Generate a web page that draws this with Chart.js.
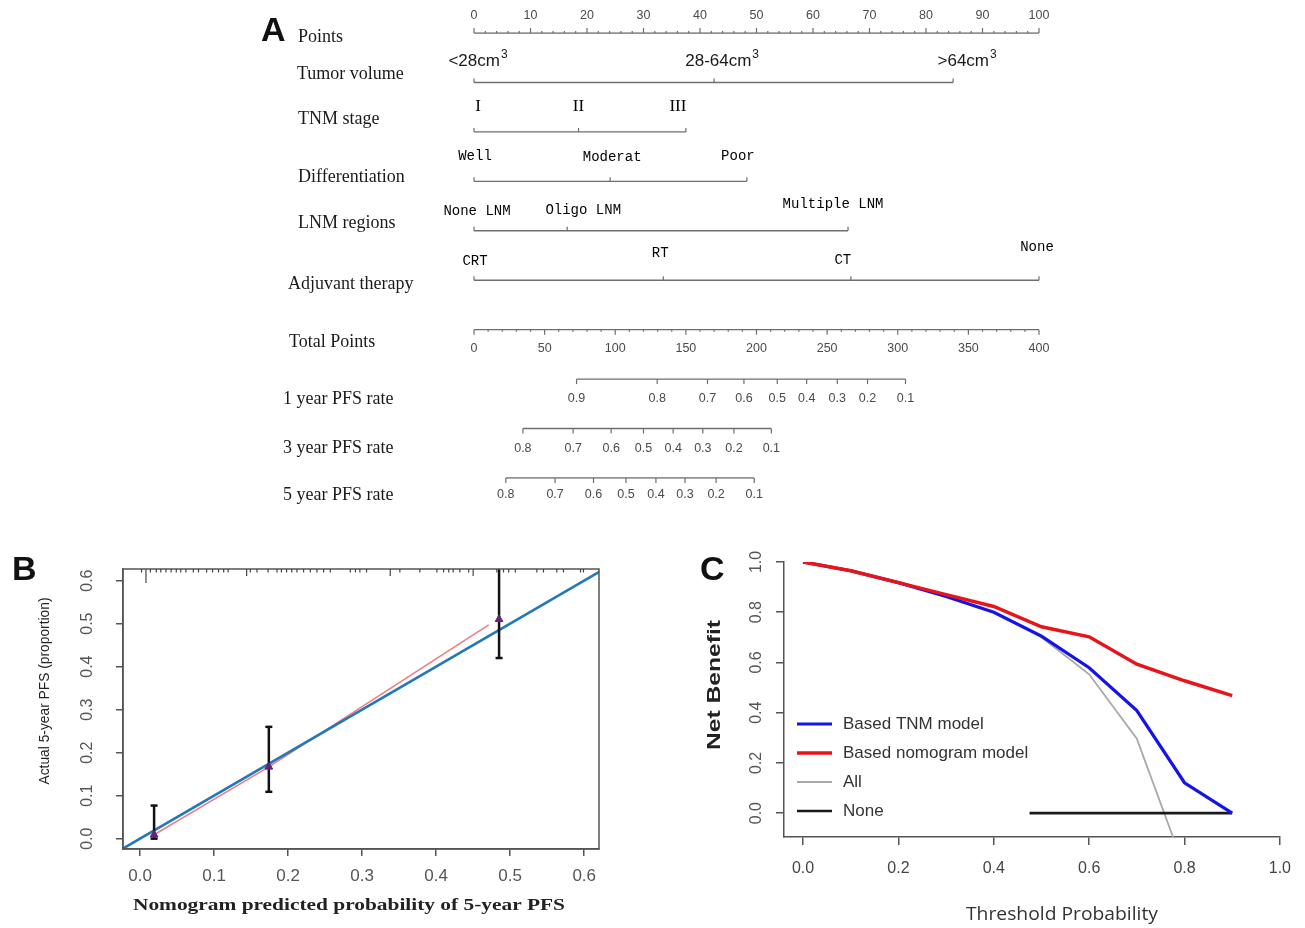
<!DOCTYPE html>
<html>
<head>
<meta charset="utf-8">
<title>PFS nomogram, calibration and decision curve</title>
<script src="https://cdn.jsdelivr.net/npm/chart.js@4.4.1/dist/chart.umd.min.js"></script>
<style>
  html, body { margin: 0; background: #fff; }
  #fig { position: relative; width: 1305px; height: 928px; overflow: hidden; }
  #fig canvas { position: absolute; }
  .panel { position: absolute; font: bold 34px "Liberation Sans", Arial, sans-serif; line-height: 34px; color: #111; }
</style>
</head>
<body>
<div id="fig">
  <canvas id="nomo" width="1305" height="540" style="left:0;top:0"></canvas>
  <canvas id="calib" width="620" height="388" style="left:0;top:540px"></canvas>
  <canvas id="dca" width="615" height="388" style="left:690px;top:540px"></canvas>
  <div class="panel" style="left:261px;top:12px">A</div>
  <div class="panel" style="left:12px;top:551px">B</div>
  <div class="panel" style="left:700px;top:551px">C</div>
</div>
<script>
// ---------- A: nomogram ----------
var rowNames = ['Points', 'Tumor volume', 'TNM stage', 'Differentiation', 'LNM regions',
  'Adjuvant therapy', 'Total Points', '1 year PFS rate', '3 year PFS rate', '5 year PFS rate'];

var pointTicks = [0, 10, 20, 30, 40, 50, 60, 70, 80, 90, 100];
var totalTicks = [0, 50, 100, 150, 200, 250, 300, 350, 400];

var volumeLabels = ['<28cm', '28-64cm', '>64cm'];
var volumePoints = [0, 42.5, 84.8];
var stageLabels = ['I', 'II', 'III'];
var stagePoints = [0, 18.5, 37.5];
var diffLabels = ['Well', 'Moderat', 'Poor'];
var diffPoints = [0, 24.1, 48.3];
var lnmLabels = ['None LNM', 'Oligo LNM', 'Multiple LNM'];
var lnmPoints = [0, 16.5, 66.2];
var therapyLabels = ['CRT', 'RT', 'CT', 'None'];
var therapyPoints = [0, 33.5, 66.7, 100];

var pfs1Labels = ['0.9', '0.8', '0.7', '0.6', '0.5', '0.4', '0.3', '0.2', '0.1'];
var pfs1Total = [72.6, 129.7, 165.3, 191.1, 214.7, 235.5, 257.2, 278.6, 305.5];
var pfs3Labels = ['0.8', '0.7', '0.6', '0.5', '0.4', '0.3', '0.2', '0.1'];
var pfs3Total = [34.6, 70.2, 97.1, 120.0, 141.0, 162.0, 184.0, 210.5];
var pfs5Labels = ['0.8', '0.7', '0.6', '0.5', '0.4', '0.3', '0.2', '0.1'];
var pfs5Total = [22.5, 57.4, 84.6, 107.6, 128.8, 149.4, 171.4, 198.4];

// ---------- B: calibration ----------
var calTicks = [0, 0.1, 0.2, 0.3, 0.4, 0.5, 0.6];
var calPred = [0.019, 0.174, 0.485];
var calObs = [0.009, 0.167, 0.510];
var calLow = [0.000, 0.109, 0.420];
var calHigh = [0.077, 0.260, 0.640];
var apparentPred = [0.019, 0.174, 0.471];
var apparentObs = [0.009, 0.167, 0.497];
var idealEnds = [-0.05, 0.7];
var rugPred = [0.002, 0.008, 0.014, 0.022, 0.028, 0.035, 0.042, 0.049, 0.055, 0.062,
  0.072, 0.079, 0.090, 0.098, 0.106, 0.113, 0.119, 0.144, 0.149, 0.158,
  0.173, 0.185, 0.191, 0.198, 0.205, 0.212, 0.221, 0.230, 0.239, 0.248,
  0.257, 0.284, 0.291, 0.297, 0.306, 0.338, 0.351, 0.378, 0.401, 0.410,
  0.417, 0.423, 0.432, 0.444, 0.450, 0.482, 0.491, 0.498, 0.507, 0.536,
  0.545, 0.563, 0.572, 0.595, 0.599];
var rugCount = [1, 4, 1, 1, 1, 1, 1, 1, 1, 1,
  1, 1, 1, 1, 1, 1, 1, 2, 1, 1,
  1, 1, 1, 1, 1, 1, 1, 1, 1, 1,
  1, 1, 1, 1, 1, 2, 1, 1, 1, 1,
  1, 1, 1, 1, 2, 1, 1, 1, 1, 1,
  1, 1, 1, 1, 1];

// ---------- C: decision curve ----------
var dcaTicks = [0, 0.2, 0.4, 0.6, 0.8, 1.0];
var thresholds = [0, 0.1, 0.2, 0.3, 0.4, 0.5, 0.6, 0.7, 0.8, 0.9];
var nbNomogram = [1.000, 0.965, 0.918, 0.870, 0.823, 0.742, 0.702, 0.593, 0.527, 0.468];
var nbTNM = [1.000, 0.965, 0.918, 0.863, 0.800, 0.705, 0.579, 0.408, 0.121, 0.000];
var nbAll = [1.000, 0.965, 0.918, 0.863, 0.800, 0.700, 0.553, 0.296, -0.220];
var noneRange = [0.475, 0.9];
var legendOrder = ['Based TNM model', 'Based nomogram model', 'All', 'None'];

var SERIF = '"Liberation Serif", "Times New Roman", serif';
var SANS = '"Liberation Sans", Arial, sans-serif';
var MONO = '"Liberation Mono", "Courier New", monospace';

// text helper: centred by default, optional rotation and stretch to a given length
function putText(ctx, str, x, y, o) {
  ctx.save();
  ctx.font = o.font;
  ctx.fillStyle = o.color || '#1a1a1a';
  ctx.textAlign = o.align || 'center';
  ctx.textBaseline = 'middle';
  ctx.translate(x, y);
  if (o.rotate) ctx.rotate(o.rotate);
  if (o.len) ctx.scale(o.len / ctx.measureText(str).width, 1);
  else if (o.sx) ctx.scale(o.sx, 1);
  ctx.fillText(str, 0, 0);
  ctx.restore();
}

function tick(ctx, x, y, len) {
  ctx.beginPath();
  ctx.moveTo(x, y);
  ctx.lineTo(x, y + len);
  ctx.stroke();
}

// volume labels carry a superscript 3
function volumeText(ctx, str, cx, cy, font) {
  ctx.save();
  ctx.font = font;
  var w = ctx.measureText(str).width;
  ctx.font = '12px ' + SANS;
  var ws = ctx.measureText('3').width;
  var x0 = cx - (w + ws + 1) / 2;
  ctx.fillStyle = '#1a1a1a';
  ctx.textBaseline = 'middle';
  ctx.textAlign = 'left';
  ctx.font = font;
  ctx.fillText(str, x0, cy);
  ctx.font = '12px ' + SANS;
  ctx.fillText('3', x0 + w + 1, cy - 7);
  ctx.restore();
}

var predictors = [
  { row: 'Tumor volume', labels: volumeLabels, points: volumePoints },
  { row: 'TNM stage', labels: stageLabels, points: stagePoints },
  { row: 'Differentiation', labels: diffLabels, points: diffPoints },
  { row: 'LNM regions', labels: lnmLabels, points: lnmPoints },
  { row: 'Adjuvant therapy', labels: therapyLabels, points: therapyPoints }
];
var survivalRows = [
  { row: '1 year PFS rate', labels: pfs1Labels, total: pfs1Total },
  { row: '3 year PFS rate', labels: pfs3Labels, total: pfs3Total },
  { row: '5 year PFS rate', labels: pfs5Labels, total: pfs5Total }
];

// label placement for each predictor row (offsets from the tick, px)
var labelLook = {
  'Tumor volume': { font: '17px ' + SANS, dx: [4, 8, 14], dy: [-21, -21, -21], volume: true },
  'TNM stage': { font: '17px ' + SERIF, dx: [4, 0, -8], dy: [-25, -25, -25] },
  'Differentiation': { font: '14px ' + MONO, dx: [1, 2, -9], dy: [-25, -24, -25] },
  'LNM regions': { font: '14px ' + MONO, dx: [3, 16, -15], dy: [-19, -20, -26] },
  'Adjuvant therapy': { font: '14px ' + MONO, dx: [1, -3, -8, -2], dy: [-19, -27, -20, -33] }
};
var rowNameX = [298, 297, 298, 298, 298, 288, 289, 283, 283, 283];
var rowNameDy = [4, -8, -13, -4, -8, 4, 13, 20, 20, 17];
var survivalDy = [19, 20, 17];

var nomogramText = {
  id: 'nomogramText',
  afterDatasetsDraw: function(chart) {
    var ctx = chart.ctx, pts = chart.scales.pts, tot = chart.scales.tot;
    var rowY = function(name) { return chart.scales.row.getPixelForValue(rowNames.indexOf(name)); };
    var tickFont = '12.5px ' + SANS;
    ctx.save();
    ctx.strokeStyle = '#6e6e6e';
    ctx.lineWidth = 1.2;

    // points ruler, ticks pointing up
    var yp = rowY('Points');
    for (var v = 0; v <= 100; v += 2) tick(ctx, pts.getPixelForValue(v), yp, v % 10 ? -2 : -5);
    pointTicks.forEach(function(t) {
      putText(ctx, String(t), pts.getPixelForValue(t), yp - 17, { font: tickFont, color: '#4a4a4a' });
    });

    // total points ruler, ticks pointing down
    var yt = rowY('Total Points');
    for (var w = 0; w <= 400; w += 10) tick(ctx, tot.getPixelForValue(w), yt, w % 50 ? 2 : 5);
    totalTicks.forEach(function(t) {
      putText(ctx, String(t), tot.getPixelForValue(t), yt + 19, { font: tickFont, color: '#4a4a4a' });
    });

    predictors.forEach(function(p) {
      var y = rowY(p.row), look = labelLook[p.row];
      p.points.forEach(function(v, i) {
        var x = pts.getPixelForValue(v);
        tick(ctx, x, y, -4);
        if (look.volume) volumeText(ctx, p.labels[i], x + look.dx[i], y + look.dy[i], look.font);
        else putText(ctx, p.labels[i], x + look.dx[i], y + look.dy[i], { font: look.font, color: '#000' });
      });
    });

    survivalRows.forEach(function(r, k) {
      var y = rowY(r.row);
      r.total.forEach(function(v, i) {
        var x = tot.getPixelForValue(v);
        tick(ctx, x, y, 5);
        putText(ctx, r.labels[i], x, y + survivalDy[k], { font: tickFont, color: '#4a4a4a' });
      });
    });

    rowNames.forEach(function(name, i) {
      putText(ctx, name, rowNameX[i], rowY(name) + rowNameDy[i], { font: '18px ' + SERIF, color: '#1a1a1a', align: 'left' });
    });
    ctx.restore();
  }
};

function rowLine(row, xs, axis) {
  return {
    data: xs.map(function(v) { return { x: v, y: row }; }),
    xAxisID: axis, yAxisID: 'row',
    showLine: true, borderColor: '#6e6e6e', borderWidth: 1.4, pointRadius: 0
  };
}

var nomoSets = [
  rowLine('Points', [pointTicks[0], pointTicks[pointTicks.length - 1]], 'pts'),
  rowLine('Total Points', [totalTicks[0], totalTicks[totalTicks.length - 1]], 'tot')
];
predictors.forEach(function(p) { nomoSets.push(rowLine(p.row, p.points, 'pts')); });
survivalRows.forEach(function(r) { nomoSets.push(rowLine(r.row, r.total, 'tot')); });

new Chart(document.getElementById('nomo'), {
  type: 'scatter',
  data: { datasets: nomoSets },
  options: {
    responsive: false, animation: false, events: [],
    layout: { padding: { left: 474, right: 266, top: 33, bottom: 62 } },
    scales: {
      pts: { type: 'linear', axis: 'x', min: 0, max: 100, display: false },
      tot: { type: 'linear', axis: 'x', min: 0, max: 400, display: false },
      row: { type: 'category', axis: 'y', labels: rowNames, offset: false, display: false }
    },
    plugins: { legend: { display: false }, tooltip: { enabled: false } }
  },
  plugins: [nomogramText]
});

// ---------- shared axis pieces for B and C ----------
function fixedTicks(values) {
  return function(scale) { scale.ticks = values.map(function(v) { return { value: v }; }); };
}
var axisGrid = { display: true, drawOnChartArea: false, drawTicks: true, tickLength: 7, color: '#555', lineWidth: 1.5 };
var axisBorder = { display: true, color: '#555', width: 1.5 };

// y tick labels written along the axis, as base R does
var rotatedYTicks = {
  id: 'rotatedYTicks',
  afterDraw: function(chart, args, opts) {
    var ys = chart.scales.y;
    ys.ticks.forEach(function(t) {
      putText(chart.ctx, t.value.toFixed(1), opts.x, ys.getPixelForValue(t.value),
        { font: opts.font, color: opts.color, rotate: -Math.PI / 2 });
    });
  }
};

var axisTitles = {
  id: 'axisTitles',
  afterDraw: function(chart, args, opts) {
    (opts.items || []).forEach(function(t) {
      putText(chart.ctx, t.text, t.x, t.y, t);
    });
  }
};

// ---------- B ----------
var calBox = {
  id: 'calBox',
  afterDraw: function(chart) {
    var ctx = chart.ctx, a = chart.chartArea, xs = chart.scales.x;
    ctx.save();
    ctx.strokeStyle = '#555';
    ctx.lineWidth = 1.5;
    ctx.strokeRect(a.left, a.top, a.right - a.left, a.bottom - a.top);
    // rug of predicted values along the top edge
    ctx.lineWidth = 1.2;
    ctx.strokeStyle = '#444';
    rugPred.forEach(function(v, i) { tick(ctx, xs.getPixelForValue(v), a.top, 3.5 * rugCount[i]); });
    ctx.restore();
  }
};

var calSets = [
  {
    label: 'Observed',
    data: calPred.map(function(x, i) { return { x: x, y: calObs[i] }; }),
    pointStyle: 'triangle', pointRadius: 4.5, backgroundColor: '#7b1c6e', borderColor: '#4b2a8a', borderWidth: 1
  }
];
calPred.forEach(function(x, i) {
  calSets.push({
    label: 'CI ' + (i + 1),
    data: [{ x: x, y: calLow[i] }, { x: x, y: calHigh[i] }],
    showLine: true, borderColor: '#111', borderWidth: 2.5,
    pointStyle: 'line', pointRadius: 3.5, pointBorderWidth: 2.5, pointBorderColor: '#111'
  });
});
calSets.push({
  label: 'Ideal',
  data: idealEnds.map(function(v) { return { x: v, y: v }; }),
  showLine: true, borderColor: '#2378b5', borderWidth: 2.6, pointRadius: 0
});
calSets.push({
  label: 'Apparent',
  data: apparentPred.map(function(x, i) { return { x: x, y: apparentObs[i] }; }),
  showLine: true, borderColor: '#ee7d86', borderWidth: 1.6, pointRadius: 0
});

new Chart(document.getElementById('calib'), {
  type: 'scatter',
  data: { datasets: calSets },
  options: {
    responsive: false, animation: false, events: [],
    layout: { padding: { left: 113, right: 21, top: 29, bottom: 39 } },
    scales: {
      x: {
        type: 'linear', min: -0.023, max: 0.62,
        afterBuildTicks: fixedTicks(calTicks),
        afterFit: function(s) { s.height = 40; },
        grid: axisGrid, border: axisBorder,
        ticks: { callback: function(v) { return v.toFixed(1); }, color: '#555', font: { family: SANS, size: 17 }, padding: 10, maxRotation: 0, autoSkip: false }
      },
      y: {
        type: 'linear', min: -0.024, max: 0.627,
        afterBuildTicks: fixedTicks(calTicks),
        afterFit: function(s) { s.width = 10; },
        grid: axisGrid, border: axisBorder,
        ticks: { display: false }
      }
    },
    plugins: {
      legend: { display: false }, tooltip: { enabled: false },
      rotatedYTicks: { x: 88, font: '16px ' + SANS, color: '#555' },
      axisTitles: { items: [
        { text: 'Nomogram predicted probability of 5-year PFS', x: 349, y: 366, font: 'bold 16px ' + SERIF, color: '#222', len: 432 },
        { text: 'Actual 5-year PFS (proportion)', x: 45, y: 151, font: '14px ' + SANS, color: '#222', len: 187, rotate: -Math.PI / 2 }
      ] }
    }
  },
  plugins: [calBox, rotatedYTicks, axisTitles]
});

// ---------- C ----------
var dcaLegend = {
  id: 'dcaLegend',
  afterDraw: function(chart) {
    var ctx = chart.ctx;
    legendOrder.forEach(function(name, i) {
      var ds = chart.data.datasets.filter(function(d) { return d.label === name; })[0];
      var y = 184 + 29 * i;
      ctx.save();
      ctx.strokeStyle = ds.borderColor;
      ctx.lineWidth = ds.borderWidth;
      ctx.beginPath();
      ctx.moveTo(107, y);
      ctx.lineTo(142, y);
      ctx.stroke();
      ctx.restore();
      putText(ctx, name, 153, y, { font: '17px ' + SANS, color: '#333', align: 'left' });
    });
  }
};

function curve(xs, ys) {
  return ys.map(function(v, i) { return { x: xs[i], y: v }; });
}

new Chart(document.getElementById('dca'), {
  type: 'scatter',
  data: {
    datasets: [
      { label: 'Based nomogram model', data: curve(thresholds, nbNomogram), showLine: true, borderColor: '#e8141b', borderWidth: 3.5, pointRadius: 0 },
      { label: 'Based TNM model', data: curve(thresholds, nbTNM), showLine: true, borderColor: '#1414e6', borderWidth: 3.2, pointRadius: 0 },
      { label: 'None', data: noneRange.map(function(x) { return { x: x, y: 0 }; }), showLine: true, borderColor: '#1a1a1a', borderWidth: 2.6, pointRadius: 0 },
      { label: 'All', data: curve(thresholds, nbAll), showLine: true, borderColor: '#a8a8a8', borderWidth: 1.8, pointRadius: 0 }
    ]
  },
  options: {
    responsive: false, animation: false, events: [],
    layout: { padding: { left: 84, right: 25, top: 22, bottom: 41 } },
    scales: {
      x: {
        type: 'linear', min: -0.04, max: 1.0,
        afterBuildTicks: fixedTicks(dcaTicks),
        afterFit: function(s) { s.height = 50; },
        grid: Object.assign({}, axisGrid, { tickLength: 8 }), border: axisBorder,
        ticks: { callback: function(v) { return v.toFixed(1); }, color: '#444', font: { family: SANS, size: 16 }, padding: 14, maxRotation: 0, autoSkip: false }
      },
      y: {
        type: 'linear', min: -0.095, max: 1.0,
        afterBuildTicks: fixedTicks(dcaTicks),
        afterFit: function(s) { s.width = 10; },
        grid: Object.assign({}, axisGrid, { tickLength: 8 }), border: axisBorder,
        ticks: { display: false }
      }
    },
    plugins: {
      legend: { display: false }, tooltip: { enabled: false },
      rotatedYTicks: { x: 67, font: '16px ' + SANS, color: '#555' },
      axisTitles: { items: [
        { text: 'Threshold Probability', x: 372, y: 375, font: '18px "Open Sans", ' + SANS, color: '#333', len: 192 },
        { text: 'Net Benefit', x: 25, y: 145, font: 'bold 18px ' + SANS, color: '#222', len: 130, rotate: -Math.PI / 2 }
      ] }
    }
  },
  plugins: [dcaLegend, rotatedYTicks, axisTitles]
});
</script>
</body>
</html>
